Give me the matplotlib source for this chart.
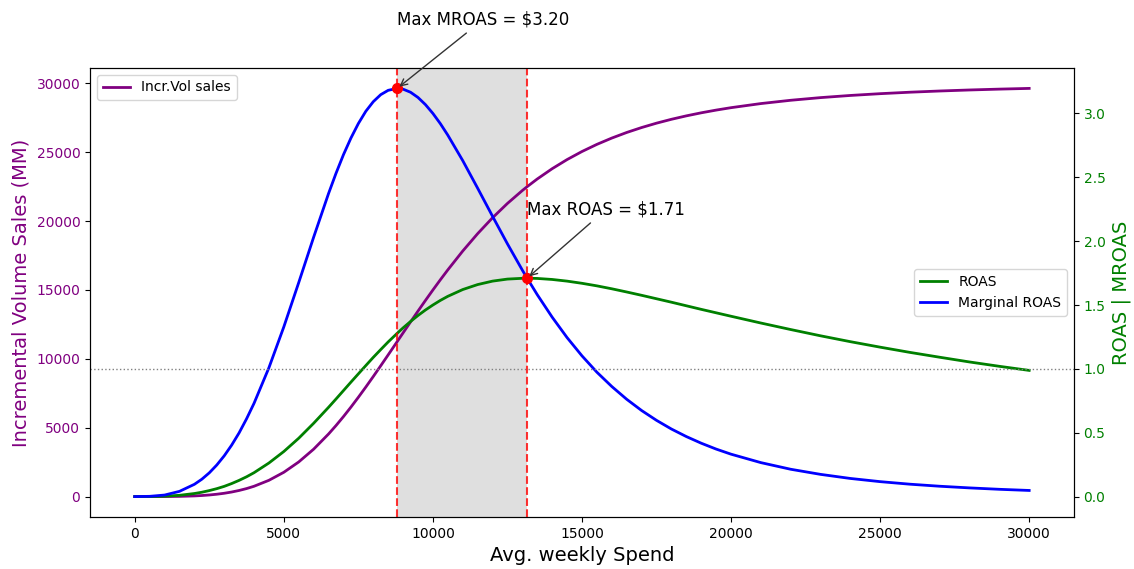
import matplotlib
matplotlib.use("Agg")
import matplotlib.pyplot as plt

# Avg. weekly spend (x)
spend = [0, 500, 1000, 1500, 2000, 2250, 2500, 2750, 3000, 3250, 3500, 3750, 4000, 4500,
         5000, 5500, 6000, 6500, 6750, 7000, 7250, 7500, 7750, 8000, 8250, 8500, 8800,
         9000, 9250, 9500, 9750, 10000, 10250, 10500, 11000, 11500, 12000, 12500, 13000,
         13161, 13500, 14000, 14500, 15000, 15500, 16000, 16500, 17000, 17500, 18000,
         18500, 19000, 19500, 20000, 21000, 22000, 23000, 24000, 25000, 26000, 27000,
         28000, 29000, 30000]

# Incremental volume sales (MM), left axis
incr_sales = [0, 0, 3, 15, 48, 77, 117, 171, 241, 331, 444, 582, 749, 1182,
              1765, 2515, 3442, 4544, 5157, 5808, 6494, 7211, 7953, 8717, 9498, 10289, 11246,
              11885, 12680, 13467, 14241, 15000, 15740, 16459, 17825, 19087, 20240, 21283, 22220,
              22500, 23058, 23804, 24466, 25052, 25570, 26028, 26434, 26792, 27110, 27391,
              27640, 27862, 28059, 28235, 28533, 28772, 28965, 29122, 29251, 29358, 29446,
              29520, 29582, 29634]

# ROAS, right axis
roas = [0.0, 0.000, 0.003, 0.010, 0.024, 0.034, 0.047, 0.062, 0.080, 0.102, 0.127, 0.155, 0.187, 0.263,
        0.353, 0.457, 0.574, 0.699, 0.764, 0.830, 0.896, 0.961, 1.026, 1.090, 1.151, 1.211, 1.278,
        1.321, 1.371, 1.418, 1.461, 1.500, 1.536, 1.568, 1.621, 1.660, 1.687, 1.703, 1.709,
        1.710, 1.708, 1.700, 1.687, 1.670, 1.650, 1.627, 1.602, 1.576, 1.549, 1.522,
        1.494, 1.466, 1.439, 1.412, 1.359, 1.308, 1.259, 1.213, 1.170, 1.129, 1.091,
        1.054, 1.020, 0.988]

# Marginal ROAS, right axis
mroas = [0.0, 0.002, 0.012, 0.041, 0.096, 0.136, 0.186, 0.247, 0.319, 0.403, 0.499, 0.609, 0.730, 1.009,
         1.329, 1.676, 2.031, 2.373, 2.531, 2.677, 2.807, 2.921, 3.017, 3.092, 3.147, 3.181, 3.196,
         3.190, 3.166, 3.125, 3.069, 3.000, 2.920, 2.830, 2.631, 2.415, 2.195, 1.979, 1.773,
         1.710, 1.581, 1.405, 1.245, 1.102, 0.974, 0.862, 0.762, 0.674, 0.597, 0.529,
         0.470, 0.418, 0.372, 0.332, 0.266, 0.214, 0.174, 0.142, 0.117, 0.097, 0.081,
         0.068, 0.057, 0.048]

# Key points
mroas_peak_x, mroas_peak_y = 8801, 3.196
roas_peak_x, roas_peak_y = 13161, 1.710

fig = plt.figure(figsize=(11.34, 5.69), dpi=100)
ax1 = fig.add_axes([0.0794, 0.0914, 0.8676, 0.7891])
ax2 = ax1.twinx()

ax1.axvspan(mroas_peak_x, roas_peak_x, color='gray', alpha=0.25, lw=0)
ax1.plot(spend, incr_sales, color='purple', lw=2, label='Incr.Vol sales')
ax1.set_xlabel('Avg. weekly Spend', fontsize=14)
ax1.set_ylabel('Incremental Volume Sales (MM)', color='purple', fontsize=14)
ax1.tick_params(axis='y', labelcolor='purple')
ax1.legend(loc='upper left')

ax2.plot(spend, roas, color='green', lw=2, label='ROAS')
ax2.plot(spend, mroas, color='blue', lw=2, label='Marginal ROAS')
ax2.axhline(1.0, color='gray', linestyle=':', lw=1)
ax2.axvline(mroas_peak_x, color='red', linestyle='--', lw=1.5, alpha=0.8)
ax2.axvline(roas_peak_x, color='red', linestyle='--', lw=1.5, alpha=0.8)
ax2.plot([mroas_peak_x], [mroas_peak_y], 'o', color='red', markersize=7)
ax2.plot([roas_peak_x], [roas_peak_y], 'o', color='red', markersize=7)
ax2.set_ylabel('ROAS | MROAS', color='green', fontsize=14)
ax2.tick_params(axis='y', labelcolor='green')
ax2.legend(loc='center right')

ax2.annotate(f'Max MROAS = ${mroas_peak_y:.2f}', xy=(mroas_peak_x, mroas_peak_y),
             xytext=(mroas_peak_x, mroas_peak_y + 0.5), fontsize=12,
             arrowprops=dict(arrowstyle='->', color='#333333', lw=1))
ax2.annotate(f'Max ROAS = ${roas_peak_y:.2f}', xy=(roas_peak_x, roas_peak_y),
             xytext=(roas_peak_x, roas_peak_y + 0.5), fontsize=12,
             arrowprops=dict(arrowstyle='->', color='#333333', lw=1))

fig.savefig('out.png', dpi=100)
